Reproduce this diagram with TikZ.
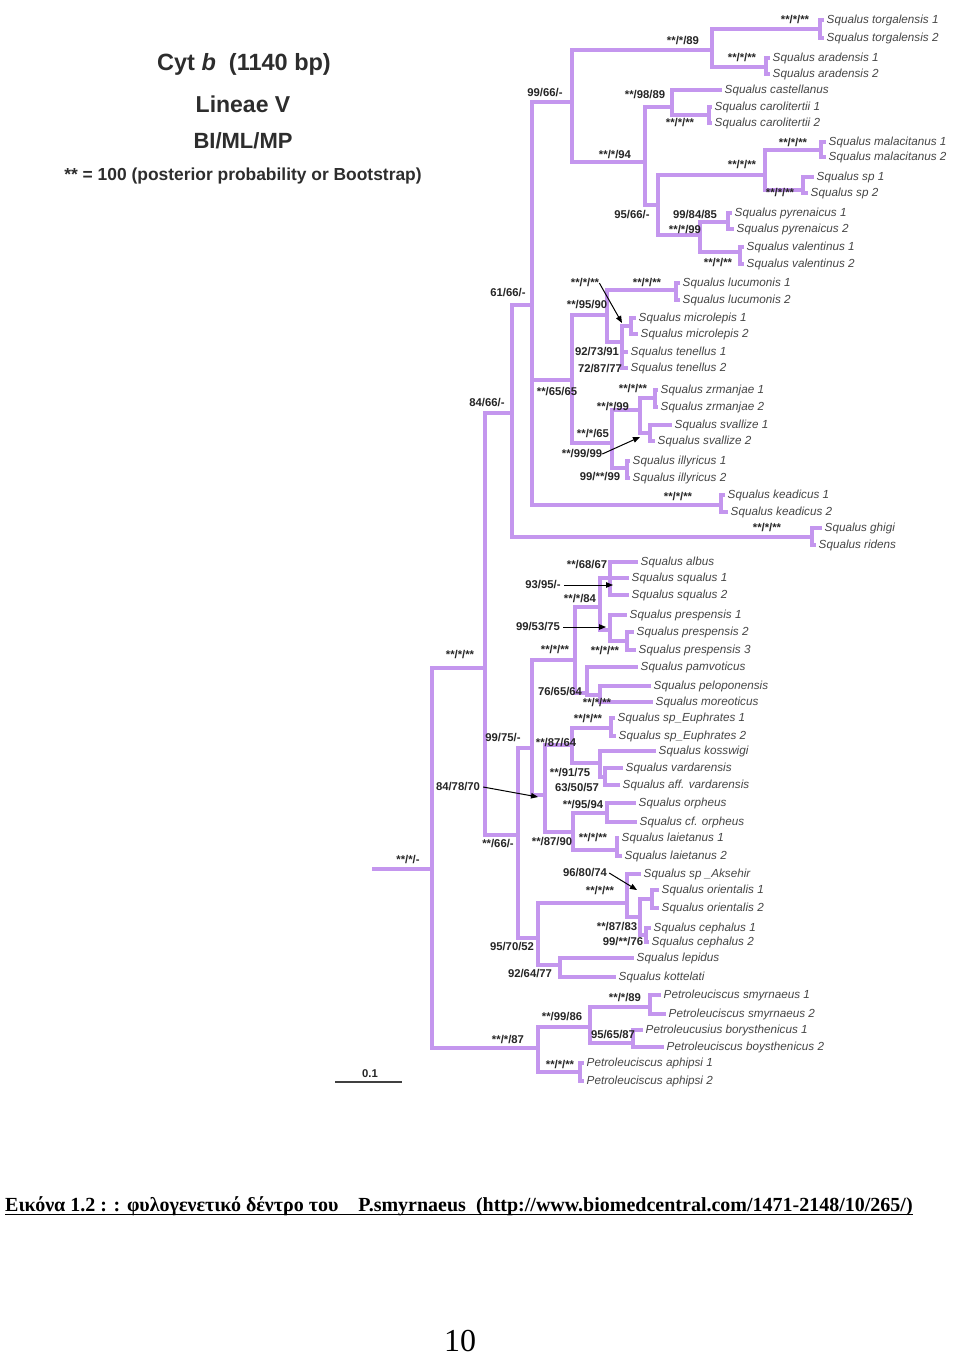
\documentclass[tikz,border=0pt]{standalone}
\usepackage{fontspec}
\setmainfont{Liberation Serif}
\newfontfamily\arial{Liberation Sans}
\usetikzlibrary{arrows.meta}
\definecolor{lilac}{RGB}{196,150,238}
\definecolor{leafgray}{RGB}{70,70,70}
\definecolor{titlegray}{RGB}{45,45,45}
\newcommand\leaf[4]{\node[leaf] (#1) at (#2,#3) {#4};}
\newcommand\slab[4]{\node[slab] (#1) at (#2,#3) {#4};}
\begin{document}
\begin{tikzpicture}[x=1pt,y=-1pt,
  leaf/.style={anchor=west, inner xsep=2.5pt, inner ysep=0pt, font=\arial\itshape\fontsize{11.7}{11.7}\selectfont, text=leafgray},
  slab/.style={inner sep=0pt, font=\arial\bfseries\fontsize{11.3}{11.3}\selectfont, text=black!85},
  br/.style={draw=lilac, line width=3.2pt},
  arr/.style={-{Triangle[length=7pt,width=5.5pt]}, line width=1pt, black},
  ttl/.style={inner sep=0pt, text=titlegray, font=\arial\bfseries}]
\fill[white] (0,0) rectangle (960,1359);
\useasboundingbox (0,0) rectangle (960,1359);

% ---------- title ----------
\node[ttl, font=\arial\bfseries\fontsize{23.5}{23.5}\selectfont] (t1) at (244,64) {Cyt \textit{b}\ \ (1140 bp)};
\node[ttl, font=\arial\bfseries\fontsize{23}{23}\selectfont] (t2) at (243,104) {Lineae V};
\node[ttl, font=\arial\bfseries\fontsize{22}{22}\selectfont] (t3) at (243,141) {BI/ML/MP};
\node[ttl, font=\arial\bfseries\fontsize{17.4}{17.4}\selectfont] (t4) at (243,176) {** = 100 (posterior probability or Bootstrap)};

% ---------- internal nodes ----------
\coordinate (R0) at (372,869);
\coordinate (R) at (432,869);
\coordinate (A) at (485,668);
\coordinate (PET) at (538,1048);
\coordinate (B) at (512,413);
\coordinate (C) at (518,835);
\coordinate (D) at (532,305);
\coordinate (GR) at (812,537);
\coordinate (E) at (572,102);
\coordinate (F) at (572,380);
\coordinate (KE) at (721,505);
\coordinate (G) at (712,50);
\coordinate (H) at (645,162);
\coordinate (TO) at (820,29);
\coordinate (AR) at (766,67);
\coordinate (I) at (672,107);
\coordinate (J) at (658,205);
\coordinate (CA) at (709,115);
\coordinate (K) at (765,175);
\coordinate (L) at (700,235);
\coordinate (MA) at (821,150);
\coordinate (SP) at (803,190);
\coordinate (PY) at (728,222);
\coordinate (VA) at (740,252);
\coordinate (M) at (607,315);
\coordinate (N) at (612,443);
\coordinate (LU) at (676,290);
\coordinate (O) at (622,342);
\coordinate (MI) at (631,326);
\coordinate (P) at (640,410);
\coordinate (IL) at (627,468);
\coordinate (ZR) at (655,398);
\coordinate (SV) at (650,433);
\coordinate (Q) at (532,748);
\coordinate (T) at (538,938);
\coordinate (S1) at (575,660);
\coordinate (U) at (545,795);
\coordinate (S2) at (600,607);
\coordinate (V) at (587,693);
\coordinate (W) at (610,578);
\coordinate (X) at (610,630);
\coordinate (Y) at (627,641);
\coordinate (Z) at (600,695);
\coordinate (AA) at (572,745);
\coordinate (BB) at (573,832);
\coordinate (EU) at (611,728);
\coordinate (CC) at (600,763);
\coordinate (DD) at (605,777);
\coordinate (OR) at (607,813);
\coordinate (LE) at (617,850);
\coordinate (T1) at (627,903);
\coordinate (T2) at (560,965);
\coordinate (T3) at (640,917);
\coordinate (ORI) at (652,899);
\coordinate (CE) at (646,935);
\coordinate (PA) at (590,1027);
\coordinate (APH) at (580,1072);
\coordinate (SM) at (650,1007);
\coordinate (BO) at (633,1043);

% ---------- leaves ----------
\leaf{tor1}{824}{20}{Squalus torgalensis 1}
\leaf{tor2}{824}{38}{Squalus torgalensis 2}
\leaf{ar1}{770}{58}{Squalus aradensis 1}
\leaf{ar2}{770}{74}{Squalus aradensis 2}
\leaf{cas}{722}{90}{Squalus castellanus}
\leaf{car1}{712}{107}{Squalus carolitertii 1}
\leaf{car2}{712}{123}{Squalus carolitertii 2}
\leaf{mal1}{826}{142}{Squalus malacitanus 1}
\leaf{mal2}{826}{157}{Squalus malacitanus 2}
\leaf{sp1}{814}{177}{Squalus sp 1}
\leaf{sp2}{808}{193}{Squalus sp 2}
\leaf{py1}{732}{213}{Squalus pyrenaicus 1}
\leaf{py2}{734}{229}{Squalus pyrenaicus 2}
\leaf{va1}{744}{247}{Squalus valentinus 1}
\leaf{va2}{744}{264}{Squalus valentinus 2}
\leaf{lu1}{680}{283}{Squalus lucumonis 1}
\leaf{lu2}{680}{300}{Squalus lucumonis 2}
\leaf{mi1}{636}{318}{Squalus microlepis 1}
\leaf{mi2}{638}{334}{Squalus microlepis 2}
\leaf{te1}{628}{352}{Squalus tenellus 1}
\leaf{te2}{628}{368}{Squalus tenellus 2}
\leaf{zr1}{658}{390}{Squalus zrmanjae 1}
\leaf{zr2}{658}{407}{Squalus zrmanjae 2}
\leaf{sv1}{672}{425}{Squalus svallize 1}
\leaf{sv2}{655}{441}{Squalus svallize 2}
\leaf{il1}{630}{461}{Squalus illyricus 1}
\leaf{il2}{630}{478}{Squalus illyricus 2}
\leaf{ke1}{725}{495}{Squalus keadicus 1}
\leaf{ke2}{728}{512}{Squalus keadicus 2}
\leaf{gh}{822}{528}{Squalus ghigi}
\leaf{ri}{816}{545}{Squalus ridens}
\leaf{alb}{638}{562}{Squalus albus}
\leaf{sq1}{629}{578}{Squalus squalus 1}
\leaf{sq2}{629}{595}{Squalus squalus 2}
\leaf{pr1}{627}{615}{Squalus prespensis 1}
\leaf{pr2}{634}{632}{Squalus prespensis 2}
\leaf{pr3}{636}{650}{Squalus prespensis 3}
\leaf{pam}{638}{667}{Squalus pamvoticus}
\leaf{pel}{651}{686}{Squalus peloponensis}
\leaf{mor}{653}{702}{Squalus moreoticus}
\leaf{eu1}{615}{718}{Squalus sp\_Euphrates 1}
\leaf{eu2}{616}{736}{Squalus sp\_Euphrates 2}
\leaf{kos}{656}{751}{Squalus kosswigi}
\leaf{var}{623}{768}{Squalus vardarensis}
\leaf{avar}{620}{785}{Squalus aff. vardarensis}
\leaf{or1}{636}{803}{Squalus orpheus}
\leaf{or2}{637}{822}{Squalus cf. orpheus}
\leaf{le1}{619}{838}{Squalus laietanus 1}
\leaf{le2}{622}{856}{Squalus laietanus 2}
\leaf{aks}{641}{874}{Squalus sp \_Aksehir}
\leaf{ori1}{659}{890}{Squalus orientalis 1}
\leaf{ori2}{659}{908}{Squalus orientalis 2}
\leaf{ce1}{651}{928}{Squalus cephalus 1}
\leaf{ce2}{649}{942}{Squalus cephalus 2}
\leaf{lep}{634}{958}{Squalus lepidus}
\leaf{kot}{616}{977}{Squalus kottelati}
\leaf{sm1}{661}{995}{Petroleuciscus smyrnaeus 1}
\leaf{sm2}{666}{1014}{Petroleuciscus smyrnaeus 2}
\leaf{bo1}{643}{1030}{Petroleucusius borysthenicus 1}
\leaf{bo2}{664}{1047}{Petroleuciscus boysthenicus 2}
\leaf{aph1}{584}{1063}{Petroleuciscus aphipsi 1}
\leaf{aph2}{584}{1081}{Petroleuciscus aphipsi 2}

% ---------- branches ----------
\draw[br] (R0) -- (R);
\foreach \p/\c in {R/A, R/PET, A/B, A/C, B/D, B/GR, D/E, D/F, D/KE, E/G, E/H,
  G/TO, G/AR, H/I, H/J, I/CA, J/K, J/L, K/MA, K/SP, L/PY, L/VA,
  F/M, F/N, M/LU, M/O, O/MI, N/P, N/IL, P/ZR, P/SV,
  C/Q, C/T, Q/S1, Q/U, S1/S2, S1/V, S2/W, S2/X, X/Y, V/Z,
  U/AA, U/BB, AA/EU, AA/CC, CC/DD, BB/OR, BB/LE,
  T/T1, T/T2, T1/T3, T3/ORI, T3/CE, PET/PA, PET/APH, PA/SM, PA/BO}
  \draw[br] (\p) |- (\c);
\foreach \p/\c in {TO/tor1, TO/tor2, AR/ar1, AR/ar2, I/cas, CA/car1, CA/car2,
  MA/mal1, MA/mal2, SP/sp1, SP/sp2, PY/py1, PY/py2, VA/va1, VA/va2,
  LU/lu1, LU/lu2, MI/mi1, MI/mi2, O/te1, O/te2, ZR/zr1, ZR/zr2, SV/sv1, SV/sv2,
  IL/il1, IL/il2, KE/ke1, KE/ke2, GR/gh, GR/ri,
  W/alb, W/sq1, W/sq2, X/pr1, Y/pr2, Y/pr3, V/pam, Z/pel, Z/mor,
  EU/eu1, EU/eu2, CC/kos, DD/var, DD/avar, OR/or1, OR/or2, LE/le1, LE/le2,
  T1/aks, ORI/ori1, ORI/ori2, CE/ce1, CE/ce2, T2/lep, T2/kot,
  SM/sm1, SM/sm2, BO/bo1, BO/bo2, APH/aph1, APH/aph2}
  \draw[br] (\p) |- (\c.west);

% ---------- support labels ----------
\slab{s1}{408}{860}{**/*/-}
\slab{s2}{460}{655}{**/*/**}
\slab{s3}{487}{403}{84/66/-}
\slab{s4}{508}{293}{61/66/-}
\slab{s5}{545}{93}{99/66/-}
\slab{s6}{683}{41}{**/*/89}
\slab{s7}{795}{20}{**/*/**}
\slab{s8}{742}{58}{**/*/**}
\slab{s9}{645}{95}{**/98/89}
\slab{s10}{680}{123}{**/*/**}
\slab{s11}{615}{155}{**/*/94}
\slab{s12}{742}{165}{**/*/**}
\slab{s13}{793}{143}{**/*/**}
\slab{s14}{780}{193}{**/*/**}
\slab{s15}{632}{215}{95/66/-}
\slab{s16}{695}{215}{99/84/85}
\slab{s17}{685}{230}{**/*/99}
\slab{s18}{718}{263}{**/*/**}
\slab{s19}{585}{283}{**/*/**}
\slab{s20}{647}{283}{**/*/**}
\slab{s21}{587}{305}{**/95/90}
\slab{s22}{597}{352}{92/73/91}
\slab{s23}{600}{369}{72/87/77}
\slab{s24}{557}{392}{**/65/65}
\slab{s25}{633}{389}{**/*/**}
\slab{s26}{613}{407}{**/*/99}
\slab{s27}{593}{434}{**/*/65}
\slab{s28}{582}{454}{**/99/99}
\slab{s29}{600}{477}{99/**/99}
\slab{s30}{678}{497}{**/*/**}
\slab{s31}{767}{528}{**/*/**}
\slab{s32}{587}{565}{**/68/67}
\slab{s33}{543}{585}{93/95/-}
\slab{s34}{580}{599}{**/*/84}
\slab{s35}{538}{627}{99/53/75}
\slab{s36}{555}{650}{**/*/**}
\slab{s37}{605}{651}{**/*/**}
\slab{s38}{560}{692}{76/65/64}
\slab{s39}{597}{703}{**/*/**}
\slab{s40}{588}{719}{**/*/**}
\slab{s41}{503}{738}{99/75/-}
\slab{s42}{556}{743}{**/87/64}
\slab{s43}{570}{773}{**/91/75}
\slab{s44}{577}{788}{63/50/57}
\slab{s45}{458}{787}{84/78/70}
\slab{s46}{583}{805}{**/95/94}
\slab{s47}{498}{844}{**/66/-}
\slab{s48}{552}{842}{**/87/90}
\slab{s49}{593}{838}{**/*/**}
\slab{s50}{585}{873}{96/80/74}
\slab{s51}{600}{891}{**/*/**}
\slab{s52}{617}{927}{**/87/83}
\slab{s53}{623}{942}{99/**/76}
\slab{s54}{512}{947}{95/70/52}
\slab{s55}{530}{974}{92/64/77}
\slab{s56}{625}{998}{**/*/89}
\slab{s57}{562}{1017}{**/99/86}
\slab{s58}{613}{1035}{95/65/87}
\slab{s59}{508}{1040}{**/*/87}
\slab{s60}{560}{1065}{**/*/**}

% ---------- arrows ----------
\coordinate (a1) at (622,323);
\coordinate (a2) at (640,437);
\coordinate (a3) at (613,585);
\coordinate (a4) at (606,627);
\coordinate (a5) at (538,797);
\coordinate (a6) at (637,890);
\draw[arr] (s19.east) -- (a1);
\draw[arr] (s28.east) -- (a2);
\draw[arr] ([xshift=3pt]s33.east) -- (a3);
\draw[arr] ([xshift=3pt]s35.east) -- (a4);
\draw[arr] ([xshift=3pt]s45.east) -- (a5);
\draw[arr] ([xshift=2pt]s50.east) -- (a6);

% ---------- scale bar ----------
\coordinate (sb1) at (335,1082);
\coordinate (sb2) at (402,1082);
\draw[line width=1.8pt, black!75] (sb1) -- (sb2);
\node[slab] (sbl) at (370,1074) {0.1};

% ---------- caption ----------
\node[anchor=base west, inner sep=0pt, font=\bfseries\fontsize{20}{20}\selectfont] (cap) at (5,1211)
  {Εικόνα 1.2 : : φυλογενετικό δέντρο του\ \ \ \ P.smyrnaeus\ \ (http://www.biomedcentral.com/1471-2148/10/265/)};
\coordinate (u1) at (5,1214.5);
\coordinate (u2) at (913,1214.5);
\draw[line width=1.1pt] (u1) -- (u2);

\node[anchor=base, inner sep=0pt, font=\fontsize{32}{32}\selectfont] (pg) at (460,1351) {10};
\end{tikzpicture}
\end{document}
